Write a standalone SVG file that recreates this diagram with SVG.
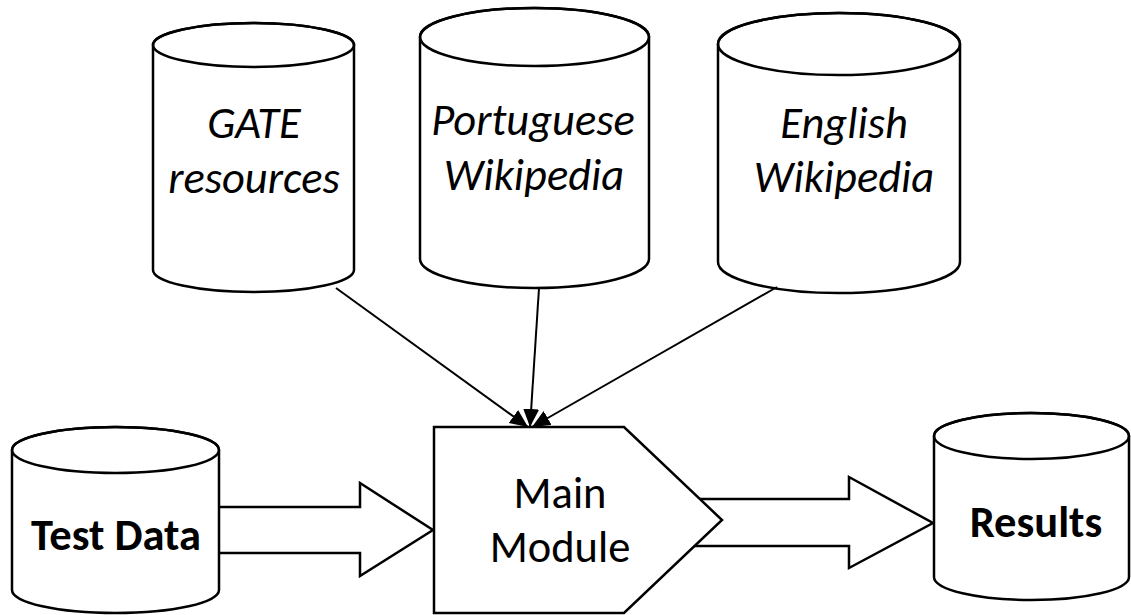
<svg xmlns="http://www.w3.org/2000/svg" width="1131" height="615" viewBox="0 0 1131 615">
<style>
.shape{fill:#fff;stroke:#000;stroke-width:2.5;stroke-linejoin:miter}
.line{fill:none;stroke:#000;stroke-width:2.5}
.conn{fill:none;stroke:#000;stroke-width:2}
.lbl{font-family:Carlito,Calibri,"Open Sans",sans-serif;fill:#000;text-anchor:middle}
.it{font-size:44.5px;font-style:italic}
.bd{font-size:44.5px;font-weight:bold}
.rg{font-size:44.5px}
</style>
<defs>
<marker id="ah" markerUnits="userSpaceOnUse" markerWidth="20" markerHeight="18" refX="18" refY="8" orient="auto">
<path d="M0,0 L18,8 L0,16 Z" fill="#000"/>
</marker>
</defs>
<rect width="1131" height="615" fill="#fff"/>

<g id="gate">
<path class="shape" d="M153,45 A100.5,22 0 0 1 354,45 L354,270 A100.5,22 0 0 1 153,270 Z"/>
<ellipse class="line" cx="253.5" cy="45" rx="100.5" ry="22"/>
<text class="lbl it" x="254" y="138">GATE</text>
<text class="lbl it" x="254" y="193">resources</text>
</g>

<g id="portuguese">
<path class="shape" d="M420,37 A114.5,29 0 0 1 649,37 L649,259 A114.5,29 0 0 1 420,259 Z"/>
<ellipse class="line" cx="534.5" cy="37" rx="114.5" ry="29"/>
<text class="lbl it" x="533" y="135">Portuguese</text>
<text class="lbl it" x="534" y="190">Wikipedia</text>
</g>

<g id="english">
<path class="shape" d="M718,44 A121,31 0 0 1 960,44 L960,262 A121,31 0 0 1 718,262 Z"/>
<ellipse class="line" cx="839" cy="44" rx="121" ry="31"/>
<text class="lbl it" x="844" y="138">English</text>
<text class="lbl it" x="844" y="192">Wikipedia</text>
</g>

<g id="connectors">
<line class="conn" x1="336" y1="288" x2="528" y2="427" marker-end="url(#ah)"/>
<line class="conn" x1="539" y1="288" x2="530" y2="427" marker-end="url(#ah)"/>
<line class="conn" x1="777" y1="287" x2="532" y2="427" marker-end="url(#ah)"/>
<path class="shape" d="M219,507 L360,507 L360,483 L433,530 L360,576 L360,553 L219,553"/>
<path class="shape" d="M690,499 L849,499 L849,477 L933,523 L849,568 L849,546 L690,546"/>
</g>

<g id="test-data">
<path class="shape" d="M12,450 A103.5,23 0 0 1 219,450 L219,590 A103.5,23 0 0 1 12,590 Z"/>
<ellipse class="line" cx="115.5" cy="450" rx="103.5" ry="23"/>
<text class="lbl bd" x="116" y="550">Test Data</text>
</g>

<g id="main-module">
<path class="shape" d="M434,427 L624,427 L722,520 L624,613 L434,613 Z"/>
<text class="lbl rg" x="560" y="508">Main</text>
<text class="lbl rg" x="560" y="562">Module</text>
</g>

<g id="results">
<path class="shape" d="M934,436 A97.5,23 0 0 1 1129,436 L1129,577 A97.5,23 0 0 1 934,577 Z"/>
<ellipse class="line" cx="1031.5" cy="436" rx="97.5" ry="23"/>
<text class="lbl bd" x="1036" y="537">Results</text>
</g>
</svg>
